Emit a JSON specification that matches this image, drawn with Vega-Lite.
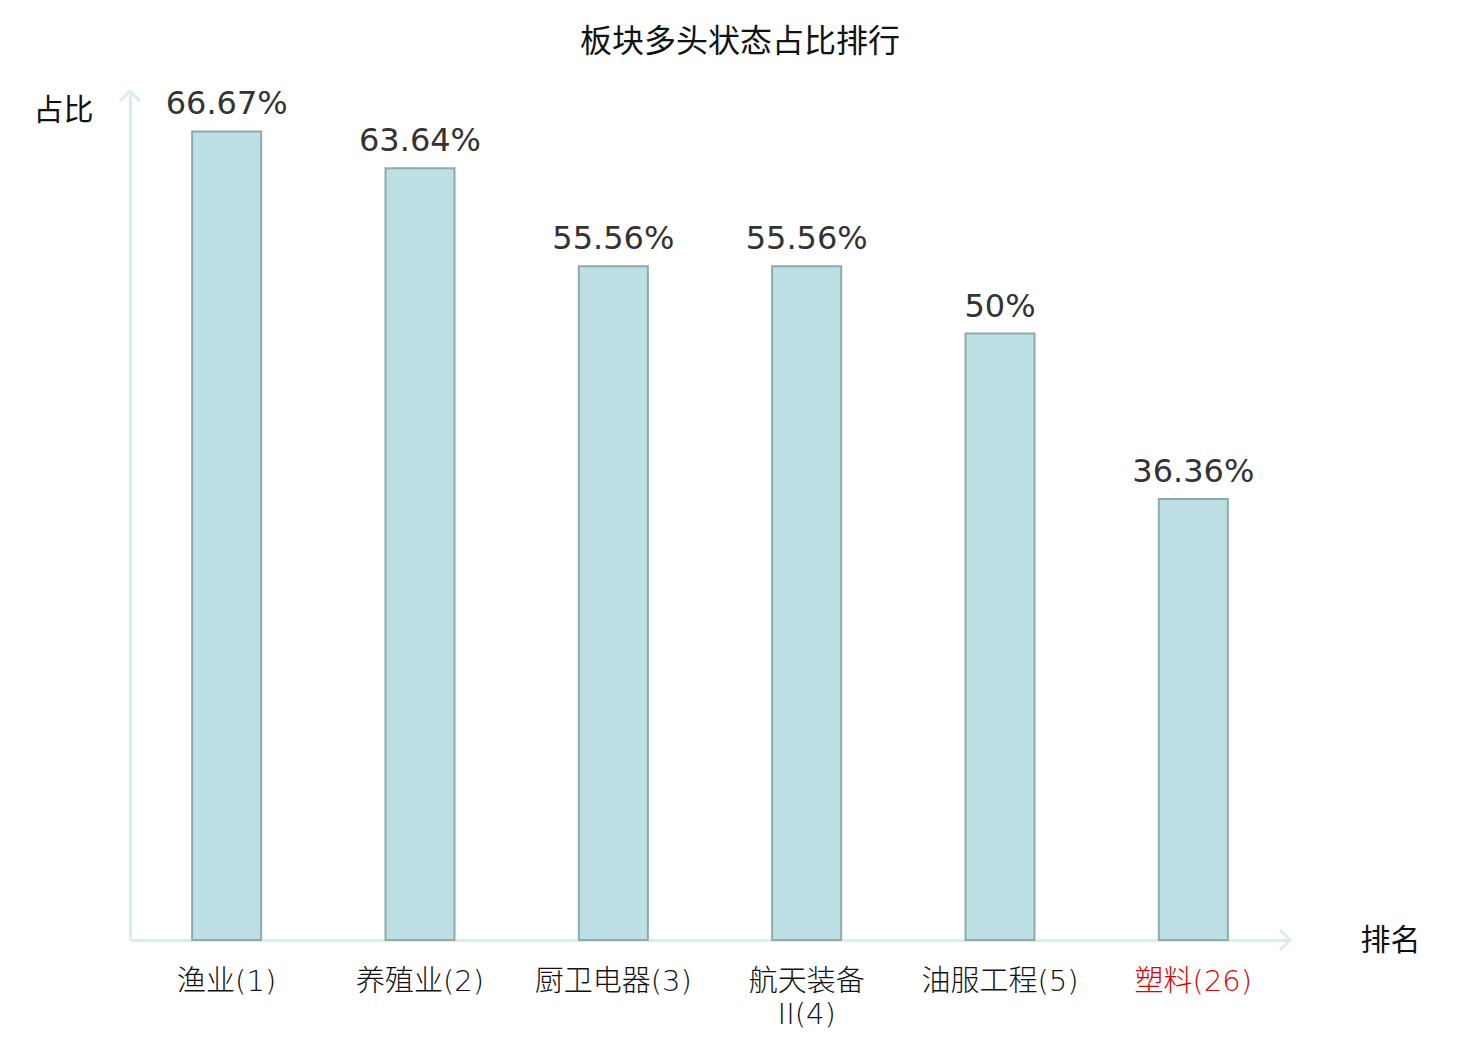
{
  "$schema": "https://vega.github.io/schema/vega-lite/v6.json",
  "width": 1160,
  "height": 849,
  "autosize": "none",
  "padding": {"left": 130, "top": 91, "right": 190, "bottom": 100},
  "background": "white",
  "config": {
    "font": "DejaVu Sans, Noto Sans CJK SC",
    "view": {"stroke": null},
    "title": {"fontSize": 32, "fontWeight": "normal", "color": "#111"}
  },
  "title": {"text": "板块多头状态占比排行", "anchor": "middle", "offset": 26, "dx": 30},
  "layer": [
    {
      "data": {
        "values": [
          {"sector": "渔业(1)", "ratio": 0.6667},
          {"sector": "养殖业(2)", "ratio": 0.6364},
          {"sector": "厨卫电器(3)", "ratio": 0.5556},
          {"sector": "航天装备II(4)", "ratio": 0.5556},
          {"sector": "油服工程(5)", "ratio": 0.5},
          {"sector": "塑料(26)", "ratio": 0.3636}
        ]
      },
      "encoding": {
        "x": {
          "field": "sector",
          "type": "nominal",
          "sort": null,
          "scale": {"paddingInner": 0.643, "paddingOuter": 0.3215},
          "axis": {
            "title": "排名",
            "titleFontSize": 30,
            "titleFontWeight": "normal",
            "titleColor": "#111",
            "titleX": 1260,
            "titleY": 0,
            "titleAlign": "center",
            "titleBaseline": "middle",
            "titleAngle": 0,
            "domainColor": "#d8f0ec",
            "domainWidth": 3,
            "ticks": false,
            "labelAngle": 0,
            "labelFont": "DejaVu Sans, Noto Sans CJK SC",
            "labelFontWeight": 200,
            "labelFontSize": 29,
            "labelPadding": 27,
            "labelLineHeight": 33,
            "labelBaseline": "top",
            "labelColor": {"condition": {"test": "datum.value == '塑料(26)'", "value": "#e00000"}, "value": "#111"},
            "labelExpr": "datum.value == '航天装备II(4)' ? ['航天装备', 'II(4)'] : datum.value"
          }
        },
        "y": {
          "field": "ratio",
          "type": "quantitative",
          "scale": {"domain": [0, 0.7], "nice": false},
          "axis": {
            "title": "占比",
            "titleFontSize": 30,
            "titleFontWeight": "normal",
            "titleColor": "#111",
            "titleAngle": 0,
            "titleX": -67,
            "titleY": 19,
            "titleAlign": "center",
            "titleBaseline": "middle",
            "domainColor": "#d8f0ec",
            "domainWidth": 3,
            "ticks": false,
            "labels": false,
            "grid": false
          }
        }
      },
      "layer": [
        {
          "mark": {"type": "bar", "color": "#bce0e3", "stroke": "#8faaab", "strokeWidth": 2}
        },
        {
          "mark": {"type": "text", "baseline": "alphabetic", "dy": -17, "fontSize": 32, "color": "#333"},
          "encoding": {"text": {"field": "ratio", "type": "quantitative", "format": ".2~%"}}
        }
      ]
    },
    {
      "data": {
        "values": [
          {"ax": 1, "ay": 0, "dir": "right"},
          {"ax": 0, "ay": 0.7, "dir": "up"}
        ]
      },
      "mark": {"type": "point", "filled": false, "strokeWidth": 3, "color": "#d8f0ec", "size": 1600, "opacity": 1},
      "encoding": {
        "x": {"field": "ax", "type": "quantitative", "scale": {"domain": [0, 1], "nice": false}, "axis": null},
        "y": {"field": "ay", "type": "quantitative"},
        "shape": {
          "field": "dir",
          "type": "nominal",
          "scale": {
            "domain": ["right", "up"],
            "range": ["M -0.5 -0.5 L 0 0 L -0.5 0.5", "M -0.5 0.5 L 0 0 L 0.5 0.5"]
          },
          "legend": null
        }
      }
    }
  ],
  "resolve": {"scale": {"x": "independent"}}
}
